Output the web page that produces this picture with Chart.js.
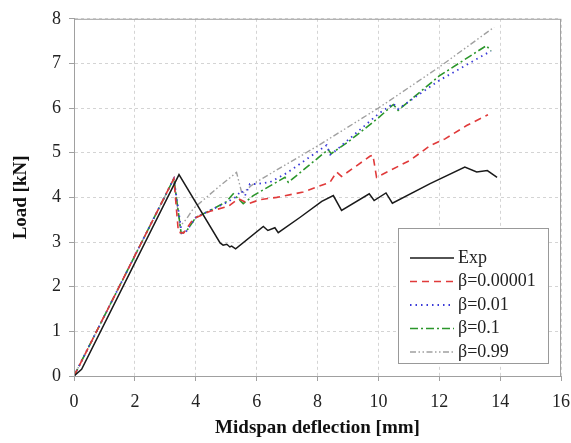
<!DOCTYPE html>
<html>
<head>
    <meta charset="UTF-8">
    <title>Load vs midspan deflection</title>
    <style>
        body { margin: 0; background: #fff; }
        canvas { display: block; }
    </style>
    <script src="https://cdn.jsdelivr.net/npm/chart.js"></script>
</head>
<body>
    <canvas id="chart" width="571" height="443"></canvas>
    <script>
        // values
        var seriesNames = ['Exp', 'β=0.00001', 'β=0.01', 'β=0.1', 'β=0.99'];
        var xTicks = [0, 2, 4, 6, 8, 10, 12, 14, 16];
        var yTicks = [0, 1, 2, 3, 4, 5, 6, 7, 8];

        var expX = [0, 0.25, 3.45, 4.8, 4.9, 5.02, 5.12, 5.18, 5.31, 6.22, 6.37, 6.6, 6.71, 7.42, 8.14, 8.52, 8.79, 9.7, 9.86, 10.25, 10.46, 11.7, 12.84, 13.23, 13.58, 13.9];
        var expY = [0, 0.15, 4.51, 2.98, 2.93, 2.95, 2.89, 2.91, 2.85, 3.35, 3.26, 3.32, 3.21, 3.55, 3.91, 4.04, 3.71, 4.08, 3.93, 4.10, 3.87, 4.31, 4.68, 4.57, 4.60, 4.45];

        var redX = [0, 3.28, 3.43, 3.6, 3.92, 4.47, 5.07, 5.4, 5.73, 6.11, 6.66, 7.53, 8.41, 8.63, 8.79, 9.72, 9.82, 9.94, 11.04, 11.7, 12.19, 12.9, 13.6];
        var redY = [0, 4.42, 3.22, 3.2, 3.52, 3.69, 3.80, 3.97, 3.86, 3.95, 4.0, 4.12, 4.34, 4.57, 4.47, 4.92, 4.95, 4.45, 4.83, 5.16, 5.31, 5.61, 5.85];

        var blueX = [0, 3.28, 3.54, 3.7, 4.0, 4.5, 5.0, 5.3, 5.5, 5.62, 5.78, 6.0, 6.44, 7.0, 7.42, 8.3, 8.42, 8.6, 10.0, 10.49, 10.65, 12.0, 13.7];
        var blueY = [0, 4.42, 3.2, 3.25, 3.55, 3.72, 3.88, 4.0, 4.15, 4.04, 4.3, 4.3, 4.34, 4.55, 4.75, 5.17, 4.96, 5.05, 5.87, 6.1, 5.98, 6.62, 7.28];

        var greenX = [0, 3.28, 3.52, 3.7, 4.0, 4.5, 5.0, 5.23, 5.56, 5.89, 6.93, 7.04, 7.42, 8.35, 8.45, 9.0, 10.0, 10.49, 10.65, 12.0, 13.55, 13.7];
        var greenY = [0, 4.42, 3.2, 3.25, 3.55, 3.72, 3.9, 4.08, 3.86, 4.04, 4.45, 4.34, 4.55, 5.07, 4.98, 5.24, 5.78, 6.08, 5.95, 6.72, 7.4, 7.28];

        var grayX = [0, 3.28, 3.48, 3.7, 3.92, 4.69, 5.34, 5.52, 5.8, 6.0, 8.0, 10.0, 12.0, 13.8];
        var grayY = [0, 4.42, 3.35, 3.52, 3.75, 4.2, 4.56, 4.08, 4.25, 4.35, 5.15, 6.0, 6.92, 7.81];

        function pts(xs, ys) {
            return xs.map(function (x, i) { return { x: x, y: ys[i] }; });
        }

        var serif = '"Liberation Serif", "Times New Roman", serif';

        // legend box drawn inside the plot, like the original
        var boxLegend = {
            id: 'boxLegend',
            afterDraw: function (chart) {
                var ctx = chart.ctx;
                var a = chart.chartArea;
                ctx.save();
                // frame round the plot
                ctx.strokeStyle = '#a0a0a0';
                ctx.lineWidth = 1;
                ctx.strokeRect(a.left + 0.5, a.top + 0.5, a.right - a.left - 1, a.bottom - a.top);

                var bx = 398, by = 228, bw = 150, bh = 135;
                ctx.fillStyle = '#fff';
                ctx.fillRect(bx, by, bw, bh);
                ctx.strokeStyle = '#999';
                ctx.strokeRect(bx + 0.5, by + 0.5, bw, bh);
                ctx.font = '18px ' + serif;
                ctx.textBaseline = 'middle';
                chart.data.datasets.forEach(function (ds, i) {
                    var yy = by + 30 + i * 23.5;
                    ctx.beginPath();
                    ctx.setLineDash(ds.borderDash || []);
                    ctx.strokeStyle = ds.borderColor;
                    ctx.lineWidth = ds.borderWidth;
                    ctx.moveTo(bx + 12, yy);
                    ctx.lineTo(bx + 56, yy);
                    ctx.stroke();
                    ctx.setLineDash([]);
                    ctx.fillStyle = '#222';
                    ctx.fillText(ds.label, bx + 60, yy);
                });
                ctx.restore();
            }
        };

        var ctx = document.getElementById('chart').getContext('2d');
        new Chart(ctx, {
            type: 'scatter',
            data: {
                datasets: [
                    { label: seriesNames[0], data: pts(expX, expY), borderColor: '#1a1a1a', borderWidth: 1.5 },
                    { label: seriesNames[1], data: pts(redX, redY), borderColor: '#e03a3a', borderWidth: 1.6, borderDash: [7, 5] },
                    { label: seriesNames[2], data: pts(blueX, blueY), borderColor: '#3a3ad8', borderWidth: 1.8, borderDash: [1.5, 4] },
                    { label: seriesNames[3], data: pts(greenX, greenY), borderColor: '#2b962b', borderWidth: 1.6, borderDash: [8, 3, 2, 3] },
                    { label: seriesNames[4], data: pts(grayX, grayY), borderColor: '#a0a0a0', borderWidth: 1.4, borderDash: [6, 2.5, 1.5, 2.5, 1.5, 2.5] }
                ]
            },
            options: {
                responsive: false,
                animation: false,
                showLine: true,
                elements: { point: { radius: 0 }, line: { tension: 0, fill: false } },
                layout: { padding: { top: 18, right: 10, left: 0, bottom: 0 } },
                plugins: { legend: { display: false }, tooltip: { enabled: false } },
                scales: {
                    x: {
                        type: 'linear',
                        min: 0, max: 16,
                        afterBuildTicks: function (s) { s.ticks = xTicks.map(function (v) { return { value: v }; }); },
                        afterFit: function (s) { s.height = 67; s.paddingLeft = 0; s.paddingRight = 0; },
                        grid: { color: '#d4d4d4', tickLength: 5, tickColor: '#a0a0a0', tickBorderDash: [] },
                        border: { color: '#a0a0a0', dash: [3, 3] },
                        ticks: { color: '#222', font: { family: serif, size: 18 }, padding: 10, maxRotation: 0 },
                        title: { display: true, text: 'Midspan deflection [mm]', color: '#111', font: { family: serif, size: 19, weight: 'bold' }, padding: { top: 0, bottom: 4 } }
                    },
                    y: {
                        type: 'linear',
                        min: 0, max: 8,
                        afterBuildTicks: function (s) { s.ticks = yTicks.map(function (v) { return { value: v }; }); },
                        afterFit: function (s) { s.width = 74; },
                        grid: { color: '#d4d4d4', tickLength: 5, tickColor: '#a0a0a0', tickBorderDash: [] },
                        border: { color: '#a0a0a0', dash: [3, 3] },
                        ticks: { color: '#222', font: { family: serif, size: 18 }, padding: 8 },
                        title: { display: true, text: 'Load [kN]', color: '#111', font: { family: serif, size: 19, weight: 'bold' }, padding: { top: 10, bottom: 8 } }
                    }
                }
            },
            plugins: [boxLegend]
        });
    </script>
</body>
</html>
